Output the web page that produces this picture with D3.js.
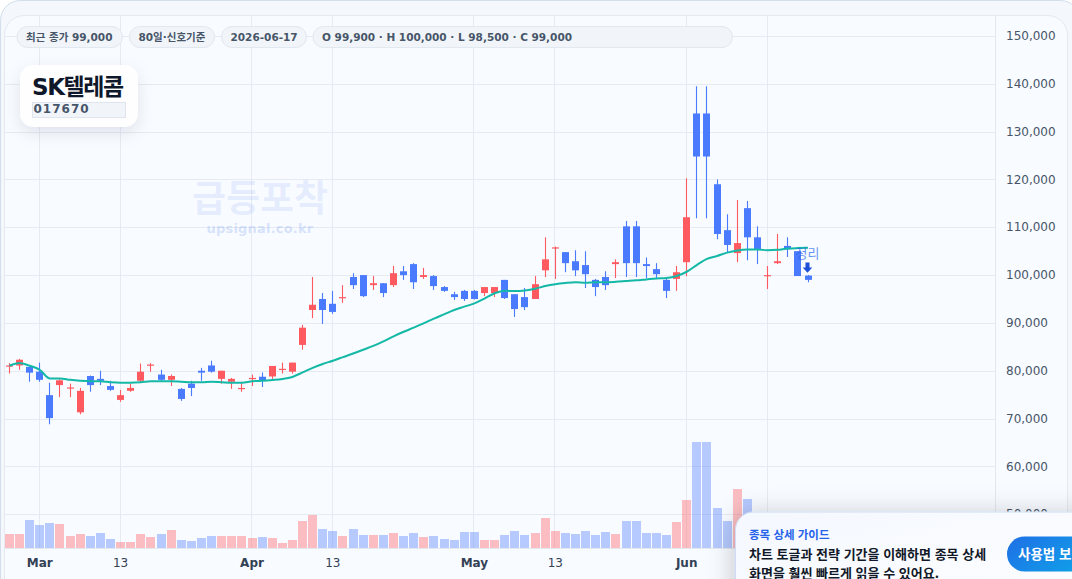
<!DOCTYPE html>
<html lang="ko">
<head>
<meta charset="utf-8">
<title>SK텔레콤 017670</title>
<script src="https://cdn.jsdelivr.net/npm/d3@7/dist/d3.min.js"></script>
<style>
  html, body { margin: 0; padding: 0; width: 1072px; height: 579px; overflow: hidden; background: #ffffff; }
  svg { display: block; font-family: "DejaVu Sans", "Noto Sans CJK KR", sans-serif; }
</style>
</head>
<body>
<svg id="chart" width="1072" height="579"></svg>
<script>
// Daily OHLC for the last 80 sessions, oldest first
const opens = [81000,81100,80800,79800,74900,77000,76300,71300,78900,78300,76800,73900,75800,77900,81100,79200,78100,76200,77300,80000,81100,78300,77700,76200,78300,78750,78800,80200,79800,85400,92700,95000,94000,95200,99600,100000,97900,98300,97900,100800,102300,99600,99800,97500,96000,96700,96700,96250,96250,99000,96000,95400,95000,101000,105600,104800,102900,102100,99000,99600,102300,110200,110200,102300,101250,99000,99200,102700,133800,133800,119000,109400,104600,114000,107900,99900,102500,106100,105000,99900];
const highs = [81600,82500,80900,81700,77500,78200,77300,76400,79000,80000,77900,76000,77300,81500,81600,80200,79200,76400,77900,80600,82100,80000,78500,77700,79200,79650,81000,81700,81700,89600,99600,96250,96700,97900,100400,100000,99800,98300,101900,101900,102500,101500,100000,97700,96500,96900,96900,97500,97500,99000,96000,97300,99800,107900,106000,104800,105200,105000,99200,100800,103300,111300,111300,103700,102500,99200,101900,120250,139500,139500,120000,112700,115700,115500,110200,101900,108600,107900,105000,100000];
const lows = [79400,80200,77700,77700,68800,74500,74500,70900,75600,77000,75800,73500,75600,77500,79800,77700,76800,73700,74700,77900,79600,77300,76200,75600,76800,76600,78300,79400,79400,84400,91000,89800,91900,94200,97100,95400,96900,95400,97500,99000,97100,99200,96900,96500,94800,94600,94900,95600,95400,95000,91250,92700,95000,99600,99200,100600,99800,97300,95600,96900,99400,99600,99600,99400,99400,95200,96700,99800,111900,111900,107500,104800,102700,103100,102300,97100,102300,103800,99800,98500];
const closes = [81100,82300,79600,78100,70100,78000,76500,75800,77000,77900,76000,74900,76400,79800,81300,78100,78900,74100,76400,79600,79800,80000,78300,76400,78500,77850,81000,80400,81700,89000,93800,92700,92300,95400,97900,95600,98300,96250,100400,100000,98500,100000,97700,96700,95400,95000,95000,97500,97500,95200,92900,93300,98100,103300,105800,102500,101000,100200,97500,97900,102700,102500,102500,101900,100200,96700,100600,112100,124800,124800,108600,106300,106700,107900,105400,100000,102900,105400,99800,99000];

// Volume per session, in thousands of shares
const volumes = [143,143,283,233,253,243,123,143,123,153,93,63,63,143,113,143,183,83,73,103,123,123,123,123,103,113,103,53,83,273,333,193,173,123,193,133,133,133,153,123,153,113,123,93,83,163,163,83,83,133,173,133,153,303,173,153,143,173,133,163,143,273,273,153,153,133,263,480,1060,1060,400,270,590,490,210,180,130,150,240,120];

// Signal line over the closing price
const signalLine = [81050,81600,81050,80200,78400,78400,78100,77900,77800,77800,77600,77500,77500,77600,77800,77800,77800,77700,77600,77600,77700,77600,77500,77500,77800,77900,78050,78250,78700,79650,80600,81400,82100,82850,83600,84400,85200,86150,87200,88150,89000,89950,90900,91800,92700,93400,94100,95100,96200,96750,96650,96800,97150,97700,98100,98350,98500,98400,98500,98500,98600,98750,98900,99100,99300,99400,99800,100700,102100,103400,104000,104700,105150,105350,105350,105200,105300,105550,105650,105700];

const priceTicks = [150000,140000,130000,120000,110000,100000,90000,80000,70000,60000,50000];
const timeTickSessions = [3,11,24,32,46,54,67,75];
const timeTickLabels = ["Mar","13","Apr","13","May","13","Jun",""];
const chipTexts = ["최근 종가 99,000","80일·신호기준","2026-06-17","O 99,900 · H 100,000 · L 98,500 · C 99,000"];
const stockLatin = "SK";
const stockHangul = "텔레콤";
const stockCode = "017670";
const exitSession = 79;
const exitLabel = "정리";
const guideTitle = "종목 상세 가이드";
const guideLines = ["차트 토글과 전략 기간을 이해하면 종목 상세","화면을 훨씬 빠르게 읽을 수 있어요."];
const guideButton = "사용법 보기";

const UP = "#ff5a5f", DOWN = "#4a7bff", GRID = "#e6ebf3", TEXT = "#475569";

const svg = d3.select("#chart");
const defs = svg.append("defs");

const plot = { left: 5, right: 995.5, top: 15.5, bottom: 548 };
const x = d3.scaleLinear().domain([0, 79]).range([9.4, 808]);
const y = d3.scaleLinear().domain([50000, 150000]).range([514.2, 36]);
const vol = d3.scaleLinear().domain([0, 1060]).range([548, 442]);

defs.append("clipPath").attr("id", "plot-clip").append("rect")
  .attr("x", plot.left).attr("y", plot.top)
  .attr("width", plot.right - plot.left).attr("height", plot.bottom - plot.top);

const guideGrad = defs.append("linearGradient").attr("id", "guide-bg").attr("x1", 0).attr("y1", 0).attr("x2", 1).attr("y2", 1);
guideGrad.append("stop").attr("offset", 0).attr("stop-color", "#f4f8ff");
guideGrad.append("stop").attr("offset", 1).attr("stop-color", "#ffffff");
const btnGrad = defs.append("linearGradient").attr("id", "guide-btn").attr("x1", 0).attr("y1", 0).attr("x2", 1).attr("y2", 0.4);
btnGrad.append("stop").attr("offset", 0).attr("stop-color", "#1f6fe5");
btnGrad.append("stop").attr("offset", 1).attr("stop-color", "#0ea5e9");
const soft = defs.append("filter").attr("id", "card-shadow").attr("x", "-30%").attr("y", "-40%").attr("width", "170%").attr("height", "200%");
soft.append("feDropShadow").attr("dx", 0).attr("dy", 6).attr("stdDeviation", 8).attr("flood-color", "#0f172a").attr("flood-opacity", 0.1);
const guideShadow = defs.append("filter").attr("id", "guide-shadow").attr("x", "-20%").attr("y", "-40%").attr("width", "140%").attr("height", "180%");
guideShadow.append("feDropShadow").attr("dx", -2).attr("dy", 2).attr("stdDeviation", 13).attr("flood-color", "#0f172a").attr("flood-opacity", 0.2);

// Outer panel and the rounded chart card
svg.append("rect").attr("x", 0.5).attr("y", 0.5).attr("width", 1080).attr("height", 640).attr("rx", 20)
  .attr("fill", "#f4f7fc").attr("stroke", "#d3ddeb");
svg.append("rect").attr("x", 4.5).attr("y", 15.5).attr("width", 1063).attr("height", 620).attr("rx", 20)
  .attr("fill", "#f8fbff").attr("stroke", "#e4e9f2");

// Grid
const grid = svg.append("g").attr("clip-path", "url(#plot-clip)");
grid.selectAll("line.h").data(priceTicks).join("line").attr("class", "h")
  .attr("x1", plot.left).attr("x2", plot.right)
  .attr("y1", d => Math.round(y(d)) + 0.5).attr("y2", d => Math.round(y(d)) + 0.5)
  .attr("stroke", GRID);
grid.selectAll("line.v").data(timeTickSessions).join("line").attr("class", "v")
  .attr("x1", d => Math.round(x(d)) - 0.5).attr("x2", d => Math.round(x(d)) - 0.5)
  .attr("y1", plot.top).attr("y2", plot.bottom)
  .attr("stroke", GRID);

// Axis frame lines
svg.append("line").attr("x1", plot.right).attr("x2", plot.right).attr("y1", plot.top).attr("y2", 579).attr("stroke", "#e2e8f0");
svg.append("line").attr("x1", plot.left).attr("x2", plot.right).attr("y1", plot.bottom + 0.5).attr("y2", plot.bottom + 0.5).attr("stroke", "#e2e8f0");

// Watermark
svg.append("text").attr("x", 260).attr("y", 212).attr("text-anchor", "middle")
  .attr("font-size", 37).attr("font-weight", 700).attr("fill", "#2563eb").attr("fill-opacity", 0.1)
  .attr("font-family", "'Noto Sans CJK KR', sans-serif").text("급등포착");
svg.append("text").attr("x", 260).attr("y", 233).attr("text-anchor", "middle")
  .attr("font-size", 13).attr("font-weight", 700).attr("letter-spacing", 0.2).attr("fill", "#2563eb").attr("fill-opacity", 0.18)
  .text("upsignal.co.kr");

// Volume histogram, bars snapped to whole pixels
const barWidth = 9;
svg.append("g").attr("clip-path", "url(#plot-clip)").selectAll("rect").data(volumes).join("rect")
  .attr("x", (d, i) => Math.round(x(i) - barWidth / 2))
  .attr("y", d => Math.round(vol(d)))
  .attr("width", barWidth)
  .attr("height", d => vol(0) - Math.round(vol(d)))
  .attr("fill", (d, i) => closes[i] >= opens[i] ? UP : DOWN)
  .attr("fill-opacity", 0.38);

// Candlesticks, snapped to whole pixels so bodies stay crisp
const sessions = d3.range(opens.length);
const candles = svg.append("g").attr("clip-path", "url(#plot-clip)");
const candleColor = i => closes[i] >= opens[i] ? UP : DOWN;
candles.selectAll("line").data(sessions).join("line")
  .attr("x1", i => Math.floor(x(i)) + 0.5).attr("x2", i => Math.floor(x(i)) + 0.5)
  .attr("y1", i => y(highs[i])).attr("y2", i => y(lows[i]))
  .attr("stroke", candleColor).attr("stroke-width", 1.1);
const candleWidth = 7;
candles.selectAll("rect").data(sessions).join("rect")
  .attr("x", i => Math.floor(x(i)) - 3)
  .attr("y", i => y(Math.max(opens[i], closes[i])))
  .attr("width", candleWidth)
  .attr("height", i => Math.max(1.2, Math.abs(y(opens[i]) - y(closes[i]))))
  .attr("fill", candleColor);

// Signal line
svg.append("path").datum(signalLine)
  .attr("fill", "none").attr("stroke", "#14b8a6").attr("stroke-width", 2)
  .attr("d", d3.line().x((d, i) => x(i)).y(d => y(d)).curve(d3.curveMonotoneX));

// Exit marker over the last session
const mx = x(exitSession) - 0.5, my = y(highs[exitSession]);
svg.append("text").attr("x", mx).attr("y", my - 17).attr("text-anchor", "middle")
  .attr("font-size", 13).attr("fill", "#2563eb").attr("fill-opacity", 0.7)
  .attr("font-family", "'Noto Sans CJK KR', sans-serif").text(exitLabel);
svg.append("path")
  .attr("transform", `translate(${mx},${my})`)
  .attr("d", "M-2,-12.5H2V-7.5H4.8L0,-2.4L-4.8,-7.5H-2Z")
  .attr("fill", "#1d4ed8");

// Price axis labels
svg.append("g").selectAll("text").data(priceTicks).join("text")
  .attr("x", 1006).attr("y", d => y(d) + 4.2)
  .attr("font-size", 12).attr("fill", TEXT)
  .text(d3.format(","));

// Time axis labels
svg.append("g").selectAll("text").data(timeTickSessions.filter((d, i) => timeTickLabels[i])).join("text")
  .attr("x", d => x(d)).attr("y", 566.5).attr("text-anchor", "middle")
  .attr("font-size", 12).attr("fill", "#334155")
  .attr("font-weight", (d, i) => i % 2 === 0 ? 700 : 400)
  .text((d, i) => timeTickLabels[i]);

// Status chips along the top
const chipBoxes = [[17, 105.5], [129.5, 85], [221.5, 85], [313, 419.5]];
const chips = svg.append("g").selectAll("g").data(chipTexts).join("g")
  .attr("transform", (d, i) => `translate(${chipBoxes[i][0]},26.5)`);
chips.append("rect").attr("x", 0.0).attr("y", 0).attr("height", 21).attr("rx", 10.5)
  .attr("width", (d, i) => chipBoxes[i][1])
  .attr("fill", "#f1f5f9").attr("stroke", "#e2e8f0");
chips.append("text").attr("x", 9).attr("y", 14.6).attr("font-size", 10.5).attr("font-weight", 700).attr("fill", TEXT)
  .text(d => d);

// Stock name card
const card = svg.append("g").attr("transform", "translate(20,65)");
card.append("rect").attr("width", 118).attr("height", 62).attr("rx", 14)
  .attr("fill", "#ffffff").attr("fill-opacity", 0.95).attr("filter", "url(#card-shadow)");
const nameText = card.append("text").attr("x", 12).attr("y", 30).attr("font-size", 23).attr("font-weight", 800)
  .attr("fill", "#0f172a").attr("letter-spacing", -1.4);
nameText.append("tspan").attr("font-family", "'DejaVu Sans', sans-serif").attr("font-weight", 700).text(stockLatin);
nameText.append("tspan").attr("font-family", "'Noto Sans CJK KR', sans-serif").attr("font-weight", 700).text(stockHangul);
card.append("rect").attr("x", 12.5).attr("y", 37.5).attr("width", 93).attr("height", 15)
  .attr("fill", "#f1f5f9").attr("stroke", "#dfe5ee");
card.append("text").attr("x", 13.5).attr("y", 48).attr("font-size", 12).attr("font-weight", 700)
  .attr("fill", TEXT).attr("letter-spacing", 1).text(stockCode);

// Guide prompt pinned to the bottom right corner
const guide = svg.append("g").attr("transform", "translate(735,511.5)");
guide.append("rect").attr("x", 0.5).attr("y", 0.5).attr("width", 420).attr("height", 120).attr("rx", 18)
  .attr("fill", "url(#guide-bg)").attr("stroke", "#cfdcf5").attr("filter", "url(#guide-shadow)");
const guideFont = "'Noto Sans CJK KR', sans-serif";
guide.append("text").attr("x", 14).attr("y", 27.5).attr("font-size", 11.5).attr("font-weight", 700)
  .attr("font-family", guideFont).attr("fill", "#2563eb").text(guideTitle);
guide.selectAll("text.body").data(guideLines).join("text").attr("class", "body")
  .attr("x", 14).attr("y", (d, i) => 47 + i * 19).attr("font-size", 13).attr("font-weight", 700)
  .attr("font-family", guideFont).attr("fill", "#111827").text(d => d);
guide.append("rect").attr("x", 272).attr("y", 25).attr("width", 110).attr("height", 35).attr("rx", 17.5)
  .attr("fill", "url(#guide-btn)");
guide.append("text").attr("x", 283).attr("y", 47.5).attr("font-size", 13.5).attr("font-weight", 700)
  .attr("font-family", guideFont).attr("fill", "#ffffff").text(guideButton);
</script>
</body>
</html>
